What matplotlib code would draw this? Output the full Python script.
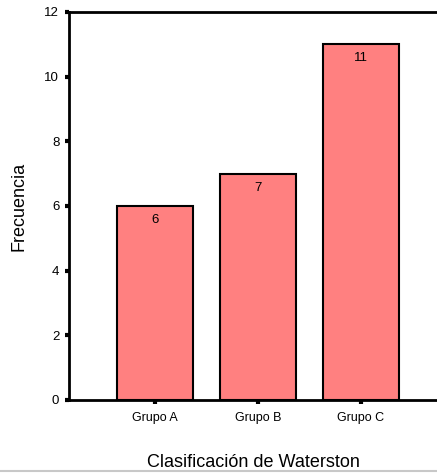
import matplotlib
matplotlib.use("Agg")
import matplotlib.pyplot as plt
from matplotlib.lines import Line2D

plt.rcParams["font.family"] = ["Liberation Sans", "DejaVu Sans"]

# Frecuencias por grupo
grupos = ["Grupo A", "Grupo B", "Grupo C"]
frecuencias = [6, 7, 11]
ticks_y = [0, 2, 4, 6, 8, 10, 12]

fig = plt.figure(figsize=(4.37, 4.75), dpi=100)
ax = fig.add_axes([69 / 437, 1 - 400 / 475, 1 - 69 / 437, 388 / 475])

pos = range(len(grupos))
barras = ax.bar(pos, frecuencias, width=0.74, color="#FF8080",
                edgecolor="black", linewidth=1.5, zorder=2)

# etiqueta con el valor dentro de cada barra
for x, v in zip(pos, frecuencias):
    ax.annotate(str(v), (x, v), xytext=(0, -10), textcoords="offset points",
                ha="center", va="center", fontsize=9.5)

ax.set_xlim(-0.835, 2.74)
ax.set_ylim(0, 12)
ax.set_xticks(list(pos))
ax.set_xticklabels(grupos, fontsize=9)
ax.set_yticks(ticks_y)
ax.set_yticklabels([str(t) for t in ticks_y], fontsize=9.5)
ax.tick_params(axis="both", length=3, width=3, direction="out", pad=4)
ax.tick_params(axis="x", pad=6)

for lado in ["left", "top", "bottom"]:
    ax.spines[lado].set_linewidth(2)
ax.spines["right"].set_visible(False)

ax.set_xlabel("Clasificación de Waterston", fontsize=13, labelpad=21)
ax.set_ylabel("Frecuencia", fontsize=13, labelpad=12)

# línea gris del borde inferior
fig.add_artist(Line2D([0, 1], [1 - 471 / 475] * 2, color="#c8c8c8",
                      linewidth=1.5, transform=fig.transFigure))

fig.savefig("out.png", dpi=100)
